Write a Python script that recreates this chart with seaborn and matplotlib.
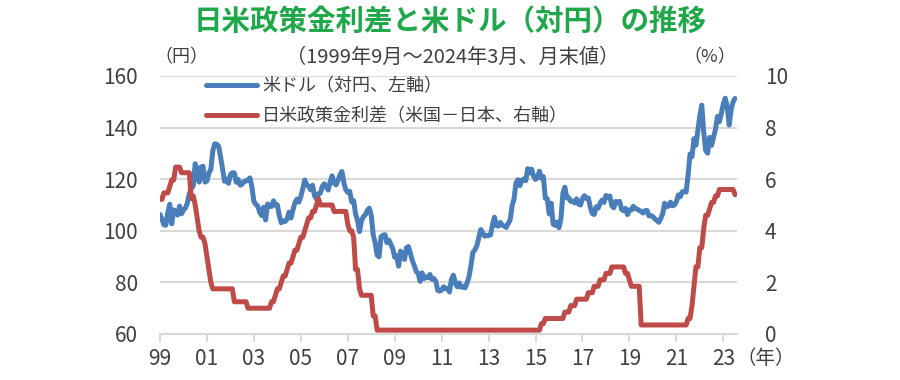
import numpy as np
import pandas as pd
import matplotlib
matplotlib.use("Agg")
import matplotlib.pyplot as plt
import seaborn as sns

# 月末値 1999年9月～2024年3月
usdjpy = [
    106.3, 104.5, 102.3, 102.2,                                                     # 1999 (9-12)
    107.1, 110.3, 102.7, 108.1, 107.6, 106.1, 109.6, 106.6, 108.1, 108.8, 110.8, 114.4,  # 2000
    116.4, 117.4, 126.0, 123.5, 118.9, 124.7, 125.0, 118.9, 119.3, 122.4, 123.9, 131.0,  # 2001
    133.7, 133.6, 132.7, 128.5, 124.0, 119.2, 120.0, 118.4, 121.8, 122.5, 122.4, 118.8,  # 2002
    119.9, 117.7, 118.1, 119.1, 119.3, 119.8, 120.5, 116.9, 111.4, 110.2, 109.6, 107.1,  # 2003
    105.9, 109.1, 104.2, 110.4, 109.6, 109.4, 111.6, 109.9, 110.1, 105.8, 103.1, 103.8,  # 2004
    103.6, 104.6, 107.2, 105.0, 108.2, 110.9, 112.3, 111.1, 113.3, 116.3, 119.7, 117.9,  # 2005
    117.2, 115.9, 117.7, 113.6, 112.3, 114.4, 114.6, 117.3, 118.2, 117.0, 115.8, 119.0,  # 2006
    121.3, 118.6, 117.8, 119.6, 121.7, 123.0, 118.6, 115.9, 114.9, 115.3, 111.2, 111.7,  # 2007
    106.4, 104.0, 99.7, 103.9, 105.5, 106.2, 107.9, 108.8, 106.1, 98.5, 95.4, 90.6,      # 2008
    89.9, 97.7, 98.3, 98.5, 95.4, 96.4, 94.7, 93.1, 89.8, 90.3, 86.3, 92.1,              # 2009
    90.3, 88.9, 93.4, 93.9, 91.3, 88.5, 86.5, 84.2, 83.5, 80.4, 83.7, 81.5,              # 2010
    82.1, 81.8, 83.1, 81.2, 81.5, 80.5, 76.9, 76.6, 77.1, 78.3, 77.6, 77.7,              # 2011
    76.3, 81.2, 82.8, 79.8, 78.3, 79.8, 78.1, 78.4, 77.9, 79.8, 82.2, 86.6,              # 2012
    91.7, 92.6, 94.2, 97.4, 100.5, 99.2, 97.9, 98.2, 98.2, 98.4, 102.4, 105.3,           # 2013
    102.0, 101.8, 103.2, 102.2, 101.8, 101.3, 102.8, 104.1, 109.7, 112.3, 118.6, 119.8,  # 2014
    117.5, 119.6, 120.1, 119.4, 124.1, 122.4, 123.9, 121.2, 119.9, 120.6, 123.1, 120.4,  # 2015
    121.0, 112.6, 112.4, 106.5, 110.7, 102.6, 102.1, 103.4, 101.2, 104.8, 114.5, 116.9,  # 2016
    112.8, 112.8, 111.4, 111.5, 110.8, 112.4, 110.3, 110.0, 112.5, 113.6, 112.5, 112.7,  # 2017
    109.2, 106.7, 106.3, 109.3, 108.8, 110.7, 111.9, 111.0, 113.7, 112.9, 113.5, 109.7,  # 2018
    108.9, 111.4, 110.9, 111.4, 108.3, 107.8, 108.7, 106.3, 108.1, 108.0, 109.5, 108.6,  # 2019
    108.4, 107.9, 107.5, 106.9, 107.8, 107.9, 105.8, 105.9, 105.5, 104.6, 104.1, 103.3,  # 2020
    104.7, 106.6, 110.7, 109.3, 109.6, 111.1, 109.7, 110.0, 111.3, 113.9, 113.2, 115.1,  # 2021
    115.3, 115.0, 121.7, 129.8, 128.7, 135.7, 133.2, 138.9, 144.7, 148.7, 138.1, 131.1,  # 2022
    130.1, 136.2, 133.1, 136.3, 139.3, 144.3, 142.3, 145.5, 149.2, 151.4, 148.2, 141.0,  # 2023
    146.9, 150.0, 151.3,                                                             # 2024 (1-3)
]

spread = [
    5.22, 5.22, 5.47, 5.47,                                                   # 1999 (9-12)
    5.47, 5.72, 5.97, 5.97, 6.47, 6.47, 6.47, 6.25, 6.25, 6.25, 6.25, 6.25,   # 2000
    5.25, 5.35, 5.0, 4.5, 4.0, 3.75, 3.75, 3.5, 3.0, 2.5, 2.0, 1.75,          # 2001
    1.75, 1.75, 1.75, 1.75, 1.75, 1.75, 1.75, 1.75, 1.75, 1.75, 1.25, 1.25,   # 2002
    1.25, 1.25, 1.25, 1.25, 1.25, 1.0, 1.0, 1.0, 1.0, 1.0, 1.0, 1.0,          # 2003
    1.0, 1.0, 1.0, 1.0, 1.0, 1.25, 1.25, 1.5, 1.75, 1.75, 2.0, 2.25,          # 2004
    2.25, 2.5, 2.75, 2.75, 3.0, 3.25, 3.25, 3.5, 3.75, 3.75, 4.0, 4.25,       # 2005
    4.5, 4.5, 4.75, 4.75, 5.0, 5.25, 5.0, 5.0, 5.0, 5.0, 5.0, 5.0,            # 2006
    5.0, 4.75, 4.75, 4.75, 4.75, 4.75, 4.75, 4.75, 4.25, 4.0, 4.0, 3.75,      # 2007
    2.5, 2.5, 1.75, 1.5, 1.5, 1.5, 1.5, 1.5, 1.5, 0.7, 0.7, 0.15,             # 2008
    0.15, 0.15, 0.15, 0.15, 0.15, 0.15, 0.15, 0.15, 0.15, 0.15, 0.15, 0.15,   # 2009
    0.15, 0.15, 0.15, 0.15, 0.15, 0.15, 0.15, 0.15, 0.15, 0.15, 0.15, 0.15,   # 2010
    0.15, 0.15, 0.15, 0.15, 0.15, 0.15, 0.15, 0.15, 0.15, 0.15, 0.15, 0.15,   # 2011
    0.15, 0.15, 0.15, 0.15, 0.15, 0.15, 0.15, 0.15, 0.15, 0.15, 0.15, 0.15,   # 2012
    0.15, 0.15, 0.15, 0.15, 0.15, 0.15, 0.15, 0.15, 0.15, 0.15, 0.15, 0.15,   # 2013
    0.15, 0.15, 0.15, 0.15, 0.15, 0.15, 0.15, 0.15, 0.15, 0.15, 0.15, 0.15,   # 2014
    0.15, 0.15, 0.15, 0.15, 0.15, 0.15, 0.15, 0.15, 0.15, 0.15, 0.15, 0.4,    # 2015
    0.4, 0.6, 0.6, 0.6, 0.6, 0.6, 0.6, 0.6, 0.6, 0.6, 0.6, 0.85,              # 2016
    0.85, 0.85, 1.1, 1.1, 1.1, 1.35, 1.35, 1.35, 1.35, 1.35, 1.35, 1.6,       # 2017
    1.6, 1.6, 1.85, 1.85, 1.85, 2.1, 2.1, 2.1, 2.35, 2.35, 2.35, 2.6,         # 2018
    2.6, 2.6, 2.6, 2.6, 2.6, 2.6, 2.35, 2.35, 2.1, 1.85, 1.85, 1.85,          # 2019
    1.85, 1.85, 0.35, 0.35, 0.35, 0.35, 0.35, 0.35, 0.35, 0.35, 0.35, 0.35,   # 2020
    0.35, 0.35, 0.35, 0.35, 0.35, 0.35, 0.35, 0.35, 0.35, 0.35, 0.35, 0.35,   # 2021
    0.35, 0.35, 0.6, 0.6, 1.1, 1.85, 2.6, 2.6, 3.35, 3.35, 4.1, 4.6,          # 2022
    4.6, 4.85, 5.1, 5.1, 5.35, 5.35, 5.6, 5.6, 5.6, 5.6, 5.6, 5.6,            # 2023
    5.6, 5.6, 5.4,                                                            # 2024 (1-3)
]

year_labels = ["99", "01", "03", "05", "07", "09", "11", "13", "15", "17", "19", "21", "23"]
left_ticks = [60, 80, 100, 120, 140, 160]
right_ticks = [0, 2, 4, 6, 8, 10]

df = pd.DataFrame({"month": np.arange(len(usdjpy)), "usdjpy": usdjpy, "spread": spread})

sns.set_theme(style="white")
plt.rcParams["font.family"] = ["Noto Sans CJK JP", "DejaVu Sans"]

blue = "#4A7EBB"
red = "#BE4B48"
grid = "#D9D9D9"
txt = "#404040"

fig = plt.figure(figsize=(9, 3.8), dpi=100)
ax = fig.add_axes([160 / 900, 1 - 334 / 380, (737 - 160) / 900, (334 - 76) / 380])
ax2 = ax.twinx()

sns.lineplot(data=df, x="month", y="usdjpy", ax=ax, color=blue, lw=3.6,
             label="米ドル（対円、左軸）", legend=False)
sns.lineplot(data=df, x="month", y="spread", ax=ax2, color=red, lw=3.6,
             label="日米政策金利差（米国－日本、右軸）", legend=False)

ax.set_xlim(0, 295)
ax.set_ylim(60, 160)
ax2.set_ylim(0, 10)
ax.set_yticks(left_ticks)
ax2.set_yticks(right_ticks)
ax.set_xticks(np.arange(len(year_labels)) * 24)
ax.set_xticklabels(year_labels)
ax.set_xlabel("")
ax.set_ylabel("")
ax2.set_ylabel("")

for y in left_ticks[1:]:
    ax.axhline(y, color=grid, lw=1.5, zorder=0)

for a in (ax, ax2):
    for s in ("top", "left", "right"):
        a.spines[s].set_visible(False)
    a.spines["bottom"].set_color(grid)
    a.spines["bottom"].set_linewidth(1.5)
ax2.spines["bottom"].set_visible(False)

ax.tick_params(axis="x", colors=txt, labelsize=15, length=6, width=1.5, color=grid, pad=4)
ax.tick_params(axis="y", colors=txt, labelsize=15, length=0, pad=16)
ax2.tick_params(axis="y", colors=txt, labelsize=15, length=0, pad=20)
ax.xaxis.set_ticks_position("bottom")

ax.set_zorder(1)
ax2.set_zorder(2)
ax.patch.set_visible(False)

h1, l1 = ax.get_legend_handles_labels()
h2, l2 = ax2.get_legend_handles_labels()
fig.legend(h1 + h2, l1 + l2, loc="upper left", bbox_to_anchor=(206 / 900, 1 - 77 / 380),
           frameon=False, fontsize=13, handlelength=2.8, handletextpad=0.3,
           labelspacing=0.7, borderpad=0, borderaxespad=0, labelcolor=txt)

fig.text(0.5, 1 - 22 / 380, "日米政策金利差と米ドル（対円）の推移", ha="center", va="center",
         fontsize=20.5, fontweight="bold", color="#1FA84A")
fig.text(453 / 900, 1 - 57 / 380, "（1999年9月～2024年3月、月末値）", ha="center", va="center",
         fontsize=14.5, color=txt)
fig.text(181 / 900, 1 - 57 / 380, "（円）", ha="center", va="center", fontsize=13, color=txt)
fig.text(710 / 900, 1 - 57 / 380, "（%）", ha="center", va="center", fontsize=13, color=txt)
fig.text(737 / 900, 1 - 358 / 380, "（年）", ha="left", va="center", fontsize=14, color=txt)

fig.savefig("out.png", dpi=100)
